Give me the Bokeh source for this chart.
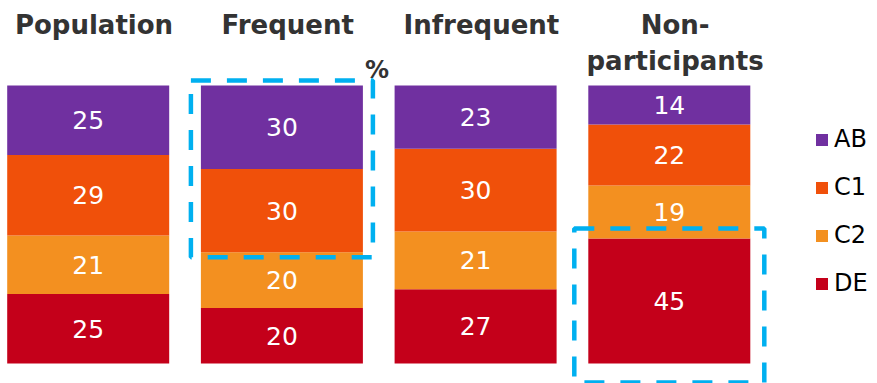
from bokeh.plotting import figure
from bokeh.models import Range1d, Legend, LegendItem, ColumnDataSource, BoxAnnotation, Label
from bokeh.core.properties import value
from bokeh.embed import file_html
from bokeh.resources import INLINE

# ---- data ----
groups = ["Population", "Frequent", "Infrequent", "Non-participants"]
group_labels = ["Population", "Frequent", "Infrequent", "Non-\nparticipants"]
segments = ["AB", "C1", "C2", "DE"]          # top -> bottom
AB = [25, 30, 23, 14]
C1 = [29, 30, 30, 22]
C2 = [21, 20, 21, 19]
DE = [25, 20, 27, 45]
colors = {"AB": "#7030A0", "C1": "#F0500A", "C2": "#F39020", "DE": "#C4001A"}
highlights = [("Frequent", ["AB", "C1"]), ("Non-participants", ["DE"])]
unit_label = "%"

# ---- layout / style ----
W, H = 877, 383
px_per_x = 193.7
x0_px = 87.7
bar_w_px = 162
y_bottom_px = 363     # y=0 (from top)
y_top_px = 85         # y=100 (from top)
py = (y_bottom_px - y_top_px) / 100.0

x_start = -x0_px / px_per_x
x_end = x_start + W / px_per_x
y_start = -(H - y_bottom_px) / py
y_end = 100 + y_top_px / py

p = figure(width=W, height=H, output_backend="svg", toolbar_location=None,
           x_range=Range1d(x_start, x_end), y_range=Range1d(y_start, y_end),
           min_border=0, outline_line_color=None)
p.xaxis.visible = False
p.yaxis.visible = False
p.xgrid.visible = False
p.ygrid.visible = False
p.background_fill_color = "white"
p.border_fill_color = "white"

vals = {"AB": AB, "C1": C1, "C2": C2, "DE": DE}
n = len(groups)
totals = [sum(vals[s][i] for s in segments) for i in range(n)]
norm = {s: [vals[s][i] / totals[i] * 100 for i in range(n)] for s in segments}

xs = list(range(n))
stack_order = list(reversed(segments))  # bottom -> top
bw = bar_w_px / px_per_x

renderers = {}
bottoms = [0.0] * n
seg_bounds = {}
for s in stack_order:
    tops = [bottoms[i] + norm[s][i] for i in range(n)]
    src = ColumnDataSource(dict(x=xs, bottom=bottoms, top=tops,
                                mid=[(bottoms[i] + tops[i]) / 2 for i in range(n)],
                                lab=[str(v) for v in vals[s]]))
    r = p.vbar(x="x", bottom="bottom", top="top", width=bw, source=src,
               fill_color=colors[s], line_color=None)
    renderers[s] = r
    p.text(x="x", y="mid", text="lab", source=src, text_color="white",
           text_font=value("DejaVu Sans"), text_font_size="25px",
           text_align="center", text_baseline="middle")
    seg_bounds[s] = (list(bottoms), tops)
    bottoms = tops

# headers
hdr_y = 100 + (y_top_px - 9) / py
hsrc = ColumnDataSource(dict(x=[x + 0.03 for x in xs], y=[hdr_y] * n, t=group_labels))
p.text(x="x", y="y", text="t", source=hsrc, text_color="#333333",
       text_font=value("DejaVu Sans"), text_font_style="bold", text_font_size="26px",
       text_align="center", text_baseline="top", text_line_height=1.2)

# highlight boxes (dashed)
pad_x = [10 / px_per_x, 14 / px_per_x]
pad_top = [5 / py, 10 / py]
pad_bot = [5 / py, 19 / py]
for k, (g, segs) in enumerate(highlights):
    i = groups.index(g)
    lo = min(seg_bounds[s][0][i] for s in segs)
    hi = max(seg_bounds[s][1][i] for s in segs)
    box = BoxAnnotation(left=i - bw / 2 - pad_x[k], right=i + bw / 2 + pad_x[k],
                        bottom=lo - pad_bot[k], top=hi + pad_top[k],
                        fill_alpha=0, line_color="#00B0F0", line_alpha=1.0, line_width=4.5,
                        line_dash="20 16", level="overlay")
    p.add_layout(box)

# % label
pct_i = groups.index("Frequent")
p.add_layout(Label(x=pct_i + bw / 2 + 14 / px_per_x, y=100 + 2 / py, text=unit_label,
                   text_font="DejaVu Sans", text_font_style="bold", text_font_size="24px",
                   text_color="#333333", text_align="center", text_baseline="bottom"))

# legend
items = [LegendItem(label=s, renderers=[renderers[s]]) for s in segments]
legend = Legend(items=items, location=(814, 86), orientation="vertical",
                glyph_width=15, glyph_height=15, label_text_font="DejaVu Sans",
                label_text_font_size="24px", label_text_color="black",
                spacing=20, padding=4, margin=0, label_standoff=5,
                border_line_color=None, background_fill_alpha=0)
p.add_layout(legend)

open("out.html", "w").write(file_html(p, INLINE))
